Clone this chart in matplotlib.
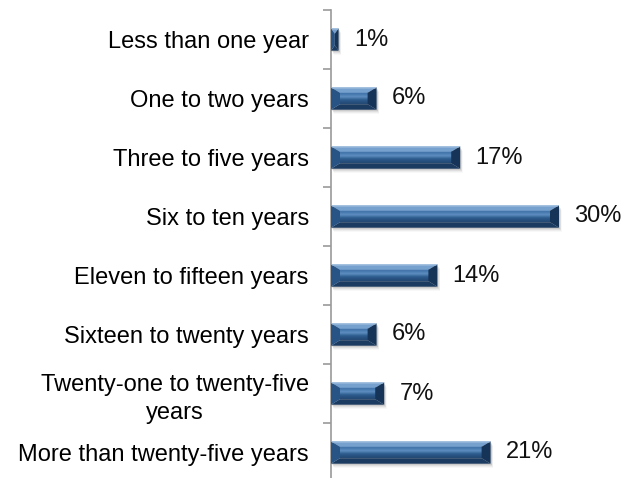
import numpy as np
import matplotlib
matplotlib.use("Agg")
import matplotlib.pyplot as plt
from matplotlib.patches import Polygon
from matplotlib.colors import LinearSegmentedColormap

plt.rcParams['font.family'] = ['Liberation Sans', 'DejaVu Sans']

categories = [
    "Less than one year",
    "One to two years",
    "Three to five years",
    "Six to ten years",
    "Eleven to fifteen years",
    "Sixteen to twenty years",
    "Twenty-one to twenty-five\nyears",
    "More than twenty-five years",
]
values = [1, 6, 17, 30, 14, 6, 7, 21]
value_labels = ["1%", "6%", "17%", "30%", "14%", "6%", "7%", "21%"]

W, H = 628, 478
fig = plt.figure(figsize=(W / 100, H / 100), dpi=100)
ax = fig.add_axes([331 / W, -4 / H, 269 / W, 472 / H])

y = np.arange(len(categories))
bars = ax.barh(y, values, height=0.38, color="none", edgecolor="none")
ax.set_xlim(0, 269 / 7.6)
ax.set_ylim(len(categories) - 0.5, -0.5)

# axis styling
for side in ["top", "right", "bottom"]:
    ax.spines[side].set_visible(False)
ax.spines["left"].set_color("#9a9a9a")
ax.spines["left"].set_linewidth(1.2)
ax.set_xticks([])
ax.set_yticks(y)
ax.set_yticklabels(categories, fontsize=17, multialignment="center", linespacing=1.35)
ax.tick_params(axis="y", which="major", length=0, pad=16)
ax.set_yticks(np.arange(-0.5, len(categories), 1.0), minor=True)
ax.tick_params(axis="y", which="minor", length=6, width=1.2, color="#9a9a9a", direction="out")

fig.canvas.draw()
to_px = ax.transData
to_data = ax.transData.inverted()

grad_cmap = LinearSegmentedColormap.from_list(
    "bevel", [(0.0, "#234872"), (0.35, "#2d5b8e"), (0.62, "#5e8ec1"), (0.8, "#4a7bb0"), (1.0, "#4070a5")]
)


def poly(pts, color, z):
    d = to_data.transform(np.array(pts))
    ax.add_patch(Polygon(d, closed=True, facecolor=color, edgecolor="none", zorder=z))


for bar, lab in zip(bars, value_labels):
    x0, yb = bar.get_x(), bar.get_y()
    w, h = bar.get_width(), bar.get_height()
    (px0, py0), (px1, py1) = to_px.transform([(x0, yb), (x0 + w, yb + h)])
    top, bot = max(py0, py1), min(py0, py1)
    left, right = px0, px1
    bx = min(9.0, (right - left) / 2)
    by = 5.5

    # soft drop shadow below the bar
    for k, a in enumerate([0.12, 0.09, 0.06, 0.04]):
        off = 1.5 + k
        poly([(left + off * 0.6, bot - off), (right + off * 0.6, bot - off),
              (right + off * 0.6, top - off), (left + off * 0.6, top - off)], (0.3, 0.3, 0.3, a), 2)

    # central face with vertical gradient
    cx0, cy0 = to_data.transform((left + bx, bot + by))
    cx1, cy1 = to_data.transform((right - bx, top - by))
    if cx1 > cx0:
        grad = np.linspace(0, 1, 64).reshape(-1, 1)
        ax.imshow(grad, extent=(cx0, cx1, cy0, cy1), origin="lower", cmap=grad_cmap,
                  aspect="auto", zorder=3, interpolation="bilinear")

    # bevel facets
    poly([(left, top), (right, top), (right - bx, top - by), (left + bx, top - by)], "#76a0ce", 4)
    poly([(left, bot), (right, bot), (right - bx, bot + by), (left + bx, bot + by)], "#1c3b60", 4)
    poly([(left, bot), (left, top), (left + bx, top - by), (left + bx, bot + by)], "#285485", 4)
    poly([(right, bot), (right, top), (right - bx, top - by), (right - bx, bot + by)], "#163458", 4)
    # thin highlight along the top edge
    poly([(left, top), (right, top), (right - 1, top - 1.2), (left + 1, top - 1.2)], "#a9c4e3", 5)

    ax.annotate(lab, xy=(x0 + w, yb + h / 2), xytext=(11, 0), textcoords="offset points",
                ha="left", va="center", fontsize=17, color="#111111")

ax.set_xlim(0, 269 / 7.6)
ax.set_ylim(len(categories) - 0.5, -0.5)

fig.savefig("out.png", dpi=100, facecolor="white")
